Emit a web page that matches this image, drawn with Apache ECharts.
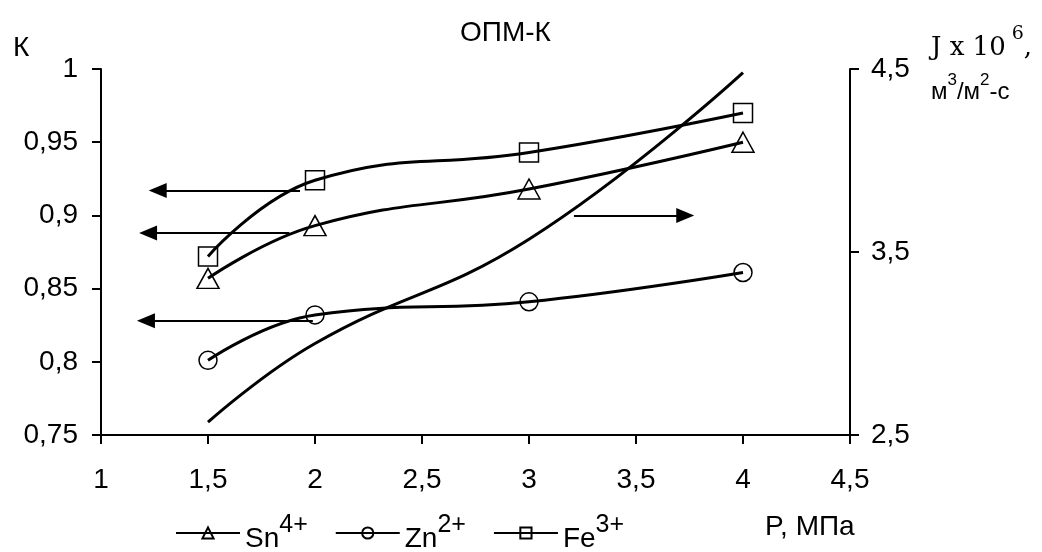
<!DOCTYPE html>
<html>
<head>
<meta charset="utf-8">
<script src="https://cdn.jsdelivr.net/npm/echarts@6/dist/echarts.min.js"></script>
<style>
html,body{margin:0;padding:0;background:#fff;}
#chart{width:1042px;height:552px;}
</style>
</head>
<body>
<div id="chart"></div>
<script>
// ---- data ----
var pressure = [1.5, 2, 3, 4];
var snK = [0.857, 0.893, 0.918, 0.950];
var znK = [0.801, 0.832, 0.841, 0.861];
var feK = [0.872, 0.924, 0.943, 0.970];
var fluxJ = [2.57, 3.00, 3.57, 4.48];
var ionBase = ['Sn', 'Zn', 'Fe'];
var ionCharge = ['4+', '2+', '3+'];
var ionSymbols = ['triangle', 'circle', 'rect'];
// arrows: [yValue, fromX, toX]  (K axis)
var arrowY = [0.917, 0.888, 0.828, 0.900];
var arrowFrom = [1.93, 1.88, 1.99, 3.21];
var arrowTo = [1.265, 1.22, 1.21, 3.73];
var xTicks = {min: 1, max: 4.5, interval: 0.5};
var kTicks = {min: 0.75, max: 1, interval: 0.05};
var jTicks = {min: 2.5, max: 4.5, interval: 1};

var FONT = '"Liberation Sans", Arial, sans-serif';
var SERIF = '"DejaVu Serif", "Liberation Serif", serif';
function comma(v){ return String(+v.toFixed(2)).replace('.', ','); }

function pts(ys){ return pressure.map(function(x,i){ return [x, ys[i]]; }); }

var kSeries = [snK, znK, feK];
var symSizes = [[22,20],[18,18],[19,19]];
var series = kSeries.map(function(vals, i){
  return {
    name: ionBase[i] + ionCharge[i],
    type: 'line',
    yAxisIndex: 0,
    data: pts(vals),
    smooth: 0.45,
    symbol: ionSymbols[i],
    symbolSize: symSizes[i],
    showAllSymbol: true,
    lineStyle: {color: '#000', width: 3},
    itemStyle: {color: 'rgba(255,255,255,0)', borderColor: '#000', borderWidth: 1.5},
    z: 3
  };
});
series.push({
  name: 'J',
  type: 'line',
  yAxisIndex: 1,
  data: pts(fluxJ),
  smooth: 0.45,
  symbol: 'none',
  lineStyle: {color: '#000', width: 3},
  itemStyle: {color: '#000'}
});
// arrows series
series.push({
  name: 'arrows',
  type: 'line',
  yAxisIndex: 0,
  data: [],
  markLine: {
    silent: true,
    animation: false,
    symbolSize: [15, 18],
    lineStyle: {color: '#000', width: 2, type: 'solid'},
    label: {show: false},
    data: arrowY.map(function(y, i){
      return [
        {coord: [arrowFrom[i], y], symbol: 'none'},
        {coord: [arrowTo[i], y], symbol: 'triangle'}
      ];
    })
  }
});

var option = {
  animation: false,
  backgroundColor: '#fff',
  textStyle: {fontFamily: FONT, color: '#000'},
  grid: {left: 101, right: 192, top: 69, bottom: 117, containLabel: false},
  title: [
    {text: 'ОПМ-К', left: 455, top: 14, textStyle: {fontFamily: FONT, fontSize: 28, fontWeight: 'normal', color: '#000'}},
    {text: 'К', left: 8, top: 29, textStyle: {fontFamily: FONT, fontSize: 28, fontWeight: 'normal', color: '#000'}},
    {text: 'P, МПа', left: 760, top: 508, textStyle: {fontFamily: FONT, fontSize: 28, fontWeight: 'normal', color: '#000'}},
    {text: '{a|J x 10}{s|6}{a|,}', left: 926, top: 20,
      textStyle: {fontWeight: 'normal', rich: {
        a: {fontFamily: SERIF, fontSize: 26, fontWeight: 'normal', color: '#000', verticalAlign: 'bottom', lineHeight: 36},
        s: {fontFamily: SERIF, fontSize: 19, fontWeight: 'normal', color: '#000', verticalAlign: 'top', padding: [0, 0, 14, 6], lineHeight: 36}
      }}},
    {text: '{a|м}{s|3}{a|/м}{s|2}{a|-с}', left: 926, top: 67,
      textStyle: {fontWeight: 'normal', rich: {
        a: {fontFamily: FONT, fontSize: 24, fontWeight: 'normal', color: '#000', verticalAlign: 'bottom', lineHeight: 32},
        s: {fontFamily: FONT, fontSize: 17, fontWeight: 'normal', color: '#000', verticalAlign: 'top', padding: [0, 0, 6, 0], lineHeight: 32}
      }}}
  ],
  legend: {
    data: ionBase.map(function(b,i){ return b + ionCharge[i]; }),
    left: 170, top: 508,
    itemWidth: 64, itemHeight: 14, itemGap: 27,
    selectedMode: false,
    formatter: function(name){
      var i = ionBase.map(function(b,k){return b+ionCharge[k];}).indexOf(name);
      return '{b|' + ionBase[i] + '}{s|' + ionCharge[i] + '}';
    },
    textStyle: {
      rich: {
        b: {fontFamily: FONT, fontSize: 28, color: '#000', lineHeight: 40, verticalAlign: 'bottom'},
        s: {fontFamily: FONT, fontSize: 25, color: '#000', lineHeight: 40, verticalAlign: 'top', padding: [0, 0, 14, 0]}
      }
    }
  },
  xAxis: {
    type: 'value', min: xTicks.min, max: xTicks.max, interval: xTicks.interval,
    axisLine: {onZero: false, lineStyle: {color: '#000', width: 2}},
    axisTick: {show: true, inside: false, length: 9, lineStyle: {color: '#000', width: 2}},
    splitLine: {show: false},
    axisLabel: {color: '#000', fontFamily: FONT, fontSize: 28, margin: 31, formatter: comma}
  },
  yAxis: [
    {
      type: 'value', position: 'left', min: kTicks.min, max: kTicks.max, interval: kTicks.interval,
      axisLine: {show: true, onZero: false, lineStyle: {color: '#000', width: 2}},
      axisTick: {show: true, inside: false, length: 9, lineStyle: {color: '#000', width: 2}},
      splitLine: {show: false},
      axisLabel: {color: '#000', fontFamily: FONT, fontSize: 28, margin: 23, formatter: comma}
    },
    {
      type: 'value', position: 'right', min: jTicks.min, max: jTicks.max, interval: jTicks.interval,
      axisLine: {show: true, onZero: false, lineStyle: {color: '#000', width: 2}},
      axisTick: {show: true, inside: false, length: 9, lineStyle: {color: '#000', width: 2}},
      splitLine: {show: false},
      axisLabel: {color: '#000', fontFamily: FONT, fontSize: 28, margin: 21, formatter: comma}
    }
  ],
  series: series
};
var chart = echarts.init(document.getElementById('chart'), null, {renderer: 'canvas'});
chart.setOption(option);
</script>
</body>
</html>
